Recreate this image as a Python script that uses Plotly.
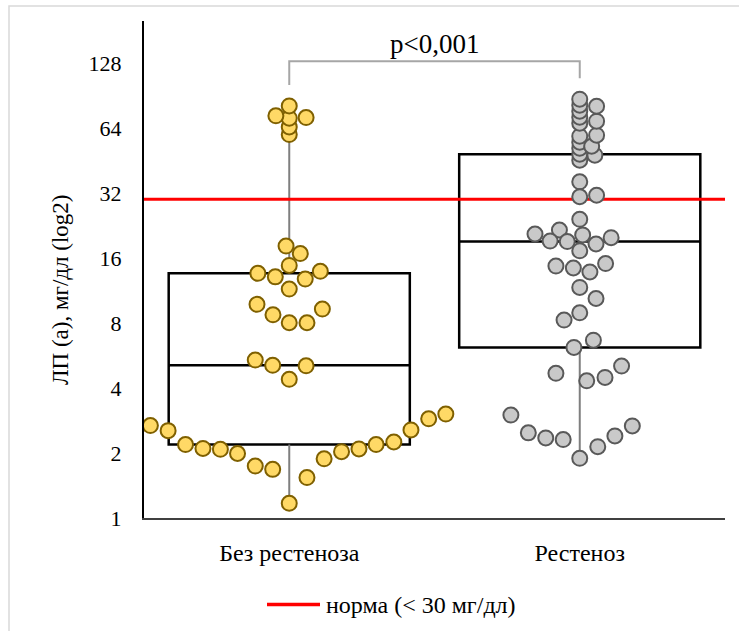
import numpy as np
import plotly.graph_objects as go

# Group labels on the horizontal axis
categories = ["Без рестеноза", "Рестеноз"]

# Lp(a) values, mg/dl — patients without restenosis
no_restenosis = [
    59.8, 64.9, 71.2, 71.7, 73.0, 81.2,
    18.2, 16.8, 14.8, 13.6, 13.1, 12.8, 13.9, 11.5,
    9.77, 8.74, 8.03, 8.03, 9.29,
    5.39, 5.10, 4.39, 5.07,
    2.68, 2.54, 2.19, 2.10, 2.08, 1.99, 1.74, 1.68, 1.17,
    1.54, 1.88, 2.03, 2.09, 2.19, 2.25, 2.56, 2.88, 3.03,
]
# swarm spread of each point around its group centre (category units)
no_restenosis_dx = [
    0.0, 0.0, 0.0, 0.058, -0.046, 0.0,
    -0.011, 0.038, 0.0, -0.108, -0.048, 0.055, 0.107, 0.0,
    -0.111, -0.056, 0.0, 0.061, 0.114,
    -0.117, -0.057, 0.0, 0.058,
    -0.478, -0.417, -0.357, -0.297, -0.237, -0.178, -0.117, -0.057, 0.0,
    0.061, 0.120, 0.180, 0.240, 0.299, 0.360, 0.419, 0.480, 0.539,
]

# Lp(a) values, mg/dl — patients with restenosis
restenosis = [
    45.5, 48.5, 51.7, 55.1, 58.8, 67.5, 72.0, 76.7, 81.8, 87.2,
    48.0, 52.8, 59.4, 69.0, 80.9,
    36.1, 30.8, 31.3,
    24.2, 20.7, 21.6, 19.2, 19.1, 20.5, 17.3, 18.6, 19.9,
    14.7, 14.4, 13.8, 15.1, 11.7, 10.4,
    8.93, 8.26, 6.67, 6.17, 4.68, 4.32, 4.48, 5.06,
    3.00, 2.48, 2.35, 2.31, 1.89, 2.14, 2.40, 2.67,
]
restenosis_dx = [
    0.0, 0.0, 0.0, 0.0, 0.0, 0.0, 0.0, 0.0, 0.0, 0.0,
    0.052, 0.041, 0.058, 0.058, 0.058,
    0.0, 0.0, 0.058,
    0.0, -0.154, -0.070, -0.102, -0.043, 0.010, 0.0, 0.056, 0.108,
    -0.082, -0.022, 0.035, 0.089, 0.0, 0.056,
    0.0, -0.054, 0.047, -0.020, -0.082, 0.024, 0.087, 0.144,
    -0.237, -0.177, -0.117, -0.057, 0.0, 0.062, 0.121, 0.181,
]

norm_level = 30
norm_label = "норма (< 30 мг/дл)"
p_label = "p<0,001"
y_title = "ЛП (а), мг/дл (log2)"
y_ticks = [1, 2, 4, 8, 16, 32, 64, 128]

groups = [no_restenosis, restenosis]
spreads = [no_restenosis_dx, restenosis_dx]
fills = ["#FFD966", "#C9C9C9"]
edges = ["#7F6000", "#595959"]

FONT = "Liberation Serif"

# plot-area geometry in pixels (used to place paper-referenced decorations)
W, H = 739, 631
L, R, T, B = 144, 14, 21, 113
pw, ph = W - L - R, H - T - B


def px_x(p):
    return (p - L) / pw


def px_y(p):
    return (H - B - p) / ph


fig = go.Figure()

# boxes (quartiles) and whiskers (min to max)
for i, vals in enumerate(groups):
    q1, med, q3 = np.percentile(vals, [25, 50, 75])
    fig.add_trace(go.Box(
        x=[i], q1=[q1], median=[med], q3=[q3], lowerfence=[q1], upperfence=[q3],
        width=0.83, whiskerwidth=0, fillcolor="white",
        line=dict(color="black", width=2.5), boxpoints=False, showlegend=False,
    ))
    fig.add_trace(go.Scatter(
        x=[i, i, None, i, i], y=[min(vals), q1, None, q3, max(vals)], mode="lines",
        line=dict(color="#7F7F7F", width=2), hoverinfo="skip", showlegend=False,
    ))

# reference level
fig.add_trace(go.Scatter(
    x=[-0.5, 1.5], y=[norm_level, norm_level], mode="lines",
    line=dict(color="#FF0000", width=3), name=norm_label, showlegend=False,
))

# individual patients
for i, (vals, dx) in enumerate(zip(groups, spreads)):
    fig.add_trace(go.Scatter(
        x=[i + d for d in dx], y=vals, mode="markers",
        marker=dict(size=15, color=fills[i], line=dict(color=edges[i], width=2)),
        showlegend=False, name=categories[i],
    ))

# significance bracket
top = max(max(g) for g in groups)
bracket_y = top * 1.5
fig.add_trace(go.Scatter(
    x=[0, 0, 1, 1],
    y=[max(no_restenosis) * 1.25, bracket_y, bracket_y, max(restenosis) * 1.25],
    mode="lines", line=dict(color="#A6A6A6", width=2),
    hoverinfo="skip", showlegend=False,
))
fig.add_annotation(
    x=0.5, y=np.log10(bracket_y), xref="x", yref="y", text=p_label,
    showarrow=False, yanchor="bottom", yshift=0,
    font=dict(family=FONT, size=27, color="black"),
)

# legend key
fig.add_shape(type="line", xref="paper", yref="paper",
              x0=px_x(267), x1=px_x(320), y0=px_y(604.5), y1=px_y(604.5),
              line=dict(color="#FF0000", width=3.5))
fig.add_annotation(
    x=px_x(324), y=px_y(604.5), xref="paper", yref="paper", text=norm_label,
    showarrow=False, xanchor="left", yanchor="middle",
    font=dict(family=FONT, size=24, color="black"),
)

# y-axis title
fig.add_annotation(
    x=px_x(60), y=px_y(290), xref="paper", yref="paper", text=y_title,
    textangle=-90, showarrow=False, xanchor="center", yanchor="middle",
    font=dict(family=FONT, size=23, color="black"),
)

# outer frame
fig.add_shape(type="rect", xref="paper", yref="paper",
              x0=px_x(9), x1=px_x(760), y0=px_y(6), y1=px_y(660),
              line=dict(color="#D9D9D9", width=1.5), fillcolor="rgba(0,0,0,0)")

fig.update_layout(
    width=W, height=H,
    margin=dict(l=L, r=R, t=T, b=B),
    paper_bgcolor="white", plot_bgcolor="white",
    font=dict(family=FONT, size=22, color="black"),
    showlegend=False,
)
fig.update_xaxes(
    range=[-0.5, 1.5], tickvals=[0, 1], ticktext=categories,
    showgrid=False, zeroline=False, showline=True, linecolor="#404040", linewidth=1.5,
    ticks="", ticklabelstandoff=12, tickfont=dict(family=FONT, size=24),
)
fig.update_yaxes(
    type="log", range=[0, np.log10(2 ** 7.65)], tickvals=y_ticks,
    ticktext=[str(v) for v in y_ticks],
    showgrid=False, zeroline=False, showline=True, linecolor="black", linewidth=2,
    ticks="", ticklabelstandoff=16, tickfont=dict(family=FONT, size=22),
)

fig.write_html("out.html")
